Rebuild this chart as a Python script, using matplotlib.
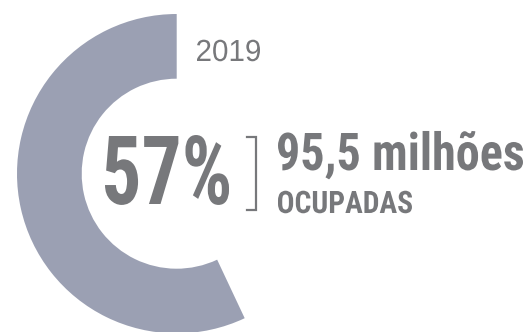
import matplotlib
matplotlib.use("Agg")
import matplotlib.pyplot as plt
from matplotlib.patches import Wedge, PathPatch
from matplotlib.textpath import TextPath
from matplotlib.transforms import Affine2D
from matplotlib.font_manager import FontProperties, findfont

# data
year = "2019"
share = 57            # percent of people employed
people = "95,5 milhões"
status = "OCUPADAS"

W, H = 530, 332
ring_color = "#9ba0b3"
text_color = "#77787b"


def pick_font(names, weight):
    for n in names:
        fp = FontProperties(family=n, weight=weight)
        try:
            findfont(fp, fallback_to_default=False)
            return fp
        except ValueError:
            continue
    return FontProperties(family="DejaVu Sans", weight=weight)


cond = pick_font(["Roboto Condensed", "Roboto"], 900)
plain = pick_font(["Liberation Sans", "DejaVu Sans"], "normal")


def fit_text(ax, s, left, base, cap_h, width, prop):
    # draw s as a path, stretched so its caps and total width hit the given sizes
    tp = TextPath((0, 0), s, size=100, prop=prop)
    ext = tp.get_extents()
    cap = TextPath((0, 0), "H", size=100, prop=prop).get_extents().y1
    sx = width / ext.width
    sy = cap_h / cap
    tr = Affine2D().translate(-ext.x0, 0).scale(sx, sy).translate(left, H - base)
    ax.add_patch(PathPatch(tr.transform_path(tp), facecolor=text_color, lw=0))


fig = plt.figure(figsize=(W / 100, H / 100), dpi=100)
ax = fig.add_axes([0, 0, 1, 1])
ax.set_xlim(0, W)
ax.set_ylim(0, H)
ax.set_aspect("equal")
ax.axis("off")

# ring, from twelve o'clock going counter-clockwise
cx, cy = 176.7, H - 173.7
r_out, r_in = 159.7, 95.0
ax.add_patch(Wedge((cx, cy), r_out, 90, 90 + 360 * share / 100,
                   width=r_out - r_in, facecolor=ring_color, lw=0))

fit_text(ax, year, 197, 61, 21, 63, plain)
fit_text(ax, f"{share}%", 105, 204, 68, 124, cond)
fit_text(ax, people, 278, 170, 37, 245, cond)
fit_text(ax, status, 278, 213, 22, 134, cond)

# bracket between the share and the count
ax.plot([247, 256, 256, 247], [H - 137, H - 137, H - 210, H - 210],
        color=text_color, lw=1.6, solid_joinstyle="miter")

fig.savefig("out.png", dpi=100)
